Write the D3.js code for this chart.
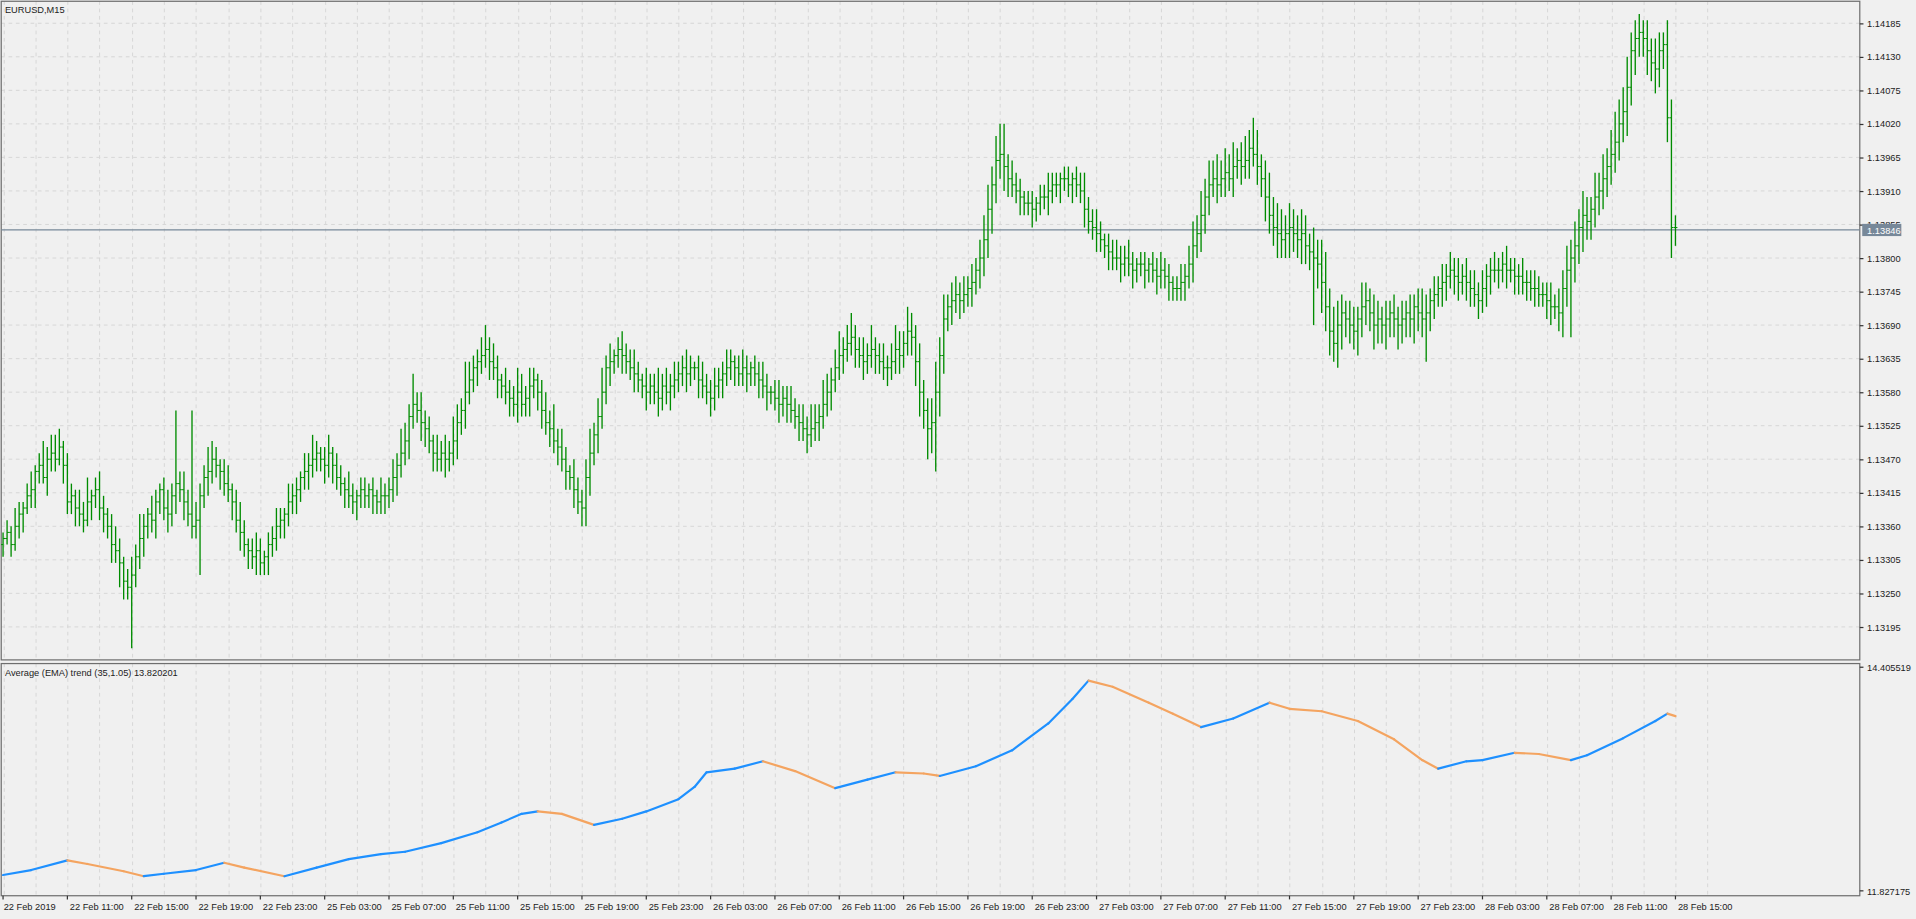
<!DOCTYPE html>
<html><head><meta charset="utf-8">
<script src="https://cdn.jsdelivr.net/npm/d3@7"></script>
<style>html,body{margin:0;padding:0;background:#f0f0f0;overflow:hidden}</style>
</head><body>
<svg id="c" width="1916" height="919" viewBox="0 0 1568 752"></svg>
<script>
// Close prices in pips above 1.1300, one per M15 bar starting 22 Feb 07:00
const closes = [
34,35,33,36,38,39,41,42,45,46,44,47,48,47,49,46,40,41,39,38,
37,40,41,42,39,38,36,33,32,30,27,26,28,31,34,36,38,37,40,42,
39,38,41,43,42,40,38,36,37,41,44,45,47,46,45,43,42,40,37,35,
33,32,31,32,30,31,33,34,36,37,38,40,41,42,44,45,46,47,48,47,
46,48,46,44,43,42,41,40,41,42,41,42,41,40,41,41,42,44,46,48,
50,54,56,55,53,52,50,48,47,48,47,48,50,53,55,58,60,62,63,64,
65,63,62,60,59,58,57,56,58,56,57,59,60,58,55,53,52,50,49,47,
45,44,42,40,39,44,48,51,54,58,62,63,64,65,64,63,62,61,60,59,
58,59,58,57,59,58,59,60,61,62,61,62,62,60,59,58,57,59,60,61,
62,63,62,61,62,61,62,61,60,59,58,58,57,56,57,56,55,54,53,52,
51,52,53,54,56,58,60,62,64,65,66,67,65,64,63,64,65,64,63,62,
62,63,65,64,66,68,67,63,58,55,52,53,58,64,70,72,73,74,73,74,
75,76,78,80,83,88,92,96,97,95,93,92,91,90,89,89,88,89,90,90,
91,92,92,93,93,92,93,92,91,88,86,85,84,83,82,81,80,80,79,80,
79,78,79,79,78,79,78,77,78,77,76,75,75,76,77,79,82,84,87,90,
92,93,92,93,94,93,95,96,95,96,98,97,95,93,90,87,85,84,83,84,
85,84,83,84,82,81,80,79,76,72,68,66,69,71,70,69,68,70,72,73,
71,69,70,69,70,71,70,69,70,71,70,72,71,70,71,73,74,75,76,77,
78,77,76,77,76,75,74,73,75,77,78,78,78,79,78,78,77,77,76,76,
75,75,74,74,73,72,72,71,75,78,80,82,85,87,86,88,90,91,93,95,
97,99,102,104,108,114,116,117,116,114,112,111,114,115,103,85,85
];
const hiExt = [
1,2,1,3,2,1,2,3,1,2,4,2,3,2,3,1,2,2,1,3,
2,4,1,2,3,2,1,2,3,2,1,2,3,2,4,2,1,3,2,1,
2,3,2,4,2,3,2,4,3,2,2,4,3,2,1,2,3,1,2,3,
2,1,2,3,2,1,2,2,3,2,1,3,2,2,1,3,2,4,2,1,
2,3,1,2,2,1,3,2,1,2,2,1,2,1,3,2,2,3,2,4,
3,2,5,2,3,2,2,1,3,2,3,2,4,3,2,5,3,2,2,3,
4,2,3,2,1,3,2,2,4,3,2,3,2,1,2,3,2,4,2,3,
2,1,3,2,2,3,4,2,3,4,2,3,1,2,3,2,2,3,2,1,
3,2,2,4,2,3,2,3,2,2,3,2,1,2,3,2,2,3,2,2,
3,2,1,2,3,2,1,2,2,3,2,1,2,3,2,2,3,2,2,3,
2,4,3,2,4,3,2,3,4,2,3,4,2,2,3,2,4,2,2,3,
2,3,4,3,2,4,3,2,3,2,2,4,5,3,4,2,3,3,2,3,
2,3,2,3,4,4,3,4,5,3,2,3,2,2,1,2,2,1,2,2,
3,2,2,1,2,2,1,2,2,3,2,2,3,2,1,2,2,3,2,2,
3,2,1,2,2,1,2,2,3,2,2,1,2,3,2,3,4,3,4,3,
4,3,4,3,4,3,4,2,3,4,3,3,4,2,3,4,3,4,4,3,
4,3,3,4,3,2,4,3,4,5,3,4,4,3,2,3,3,2,4,3,
2,3,3,2,3,2,3,2,3,2,3,2,3,4,3,2,3,2,3,2,
3,2,3,2,3,2,3,2,3,2,2,3,2,2,3,2,2,2,3,2,
2,3,2,2,2,3,2,3,3,4,3,4,3,4,3,2,4,3,4,3,
4,5,4,4,5,3,3,3,2,3,2,4,3,2,4,3,2
];
const loExt = [
2,1,2,1,2,3,1,2,3,2,1,3,2,2,1,3,2,2,3,2,
2,1,3,2,2,3,2,3,2,4,3,2,3,2,2,3,2,2,3,2,
2,3,2,3,2,3,2,2,2,3,2,3,2,2,3,2,2,3,2,3,
2,3,2,3,2,2,3,2,2,2,3,2,2,3,2,2,3,2,2,2,
3,2,3,2,2,3,2,2,3,2,2,2,3,2,2,3,2,2,3,2,
2,3,2,2,3,3,2,3,2,2,3,2,2,3,2,3,2,2,3,2,
2,3,2,3,2,2,3,2,3,2,2,3,2,3,3,2,3,2,3,2,
3,2,3,2,3,2,3,2,3,2,2,3,2,2,3,2,2,3,2,2,
3,2,2,3,2,2,3,2,2,2,3,2,2,3,2,2,3,2,2,3,
2,2,3,2,2,3,2,2,3,2,3,2,2,3,2,3,2,2,3,2,
3,2,2,3,2,2,3,2,2,3,2,2,3,2,3,2,2,3,2,2,
3,2,2,3,2,2,3,4,4,3,5,4,3,4,3,2,3,2,3,2,
2,3,2,3,3,3,4,3,3,4,3,2,2,3,2,2,3,2,2,2,
3,2,2,3,2,2,3,2,2,3,2,2,3,2,2,3,2,2,3,2,
2,3,2,2,3,2,2,3,2,2,3,2,2,2,3,2,3,2,3,3,
3,2,3,2,3,2,3,2,3,2,3,2,3,3,4,3,3,4,3,3,
4,3,3,4,3,3,4,4,5,4,4,3,3,4,3,3,3,4,3,3,
3,4,3,3,4,3,3,4,3,3,3,4,3,3,3,3,3,2,3,3,
2,3,3,2,3,3,2,3,2,3,3,2,3,2,3,2,3,3,2,3,
2,3,2,2,3,3,2,3,4,3,3,4,3,4,3,3,3,3,3,3,
3,3,3,3,4,3,4,3,3,4,3,4,3,3,4,5,3
];
// Visible wick extremes: [bar index, price in pips]
const spikeHighs = [[13,51],[43,55],[47,55],[249,102],[311,103],[407,118],[409,119]];
const spikeLows = [[32,16],[49,28],[145,36],[232,45],[326,69],[332,62],[354,63],[390,67]];
// EMA trend indicator readings: [bar index, value]
const emaPts = [
[0,12.010],[7,12.067],[16,12.179],[21,12.137],[30,12.053],[35,11.996],[40,12.024],[48,12.067],[55,12.151],[60,12.095],
[70,11.996],[78,12.095],[86,12.193],[94,12.250],[100,12.278],[109,12.377],[118,12.503],[124,12.616],[129,12.715],[133,12.743],
[139,12.715],[147,12.588],[154,12.658],[160,12.743],[168,12.884],[172,13.025],[175,13.194],[182,13.236],[189,13.321],[197,13.208],
[207,13.011],[215,13.109],[222,13.194],[229,13.180],[233,13.152],[242,13.264],[251,13.447],[260,13.757],[266,14.039],[270,14.251],
[276,14.180],[285,13.997],[291,13.870],[298,13.715],[306,13.814],[315,13.997],[320,13.926],[328,13.898],[337,13.785],[346,13.574],
[353,13.335],[357,13.236],[364,13.321],[368,13.335],[376,13.419],[382,13.405],[390,13.335],[394,13.391],[403,13.588],[411,13.785],
[414,13.870],[416,13.842]
];
const priceTicks = [1.13195,1.13250,1.13305,1.13360,1.13415,1.13470,1.13525,1.13580,1.13635,1.13690,1.13745,1.13800,1.13855,1.13910,1.13965,1.14020,1.14075,1.14130,1.14185];
const dateLabels = ["22 Feb 2019","22 Feb 11:00","22 Feb 15:00","22 Feb 19:00","22 Feb 23:00","25 Feb 03:00","25 Feb 07:00","25 Feb 11:00","25 Feb 15:00","25 Feb 19:00","25 Feb 23:00","26 Feb 03:00","26 Feb 07:00","26 Feb 11:00","26 Feb 15:00","26 Feb 19:00","26 Feb 23:00","27 Feb 03:00","27 Feb 07:00","27 Feb 11:00","27 Feb 15:00","27 Feb 19:00","27 Feb 23:00","28 Feb 03:00","28 Feb 07:00","28 Feb 11:00","28 Feb 15:00"];
const lastPrice = 1.13846;
const emaMax = 14.405519, emaMin = 11.827175;

const svg = d3.select("#c");
const font = "'Liberation Sans', Arial, sans-serif";
const FS = 7.6;
const L = 1, R = 1522, T = 1, B = 540, T2 = 543, B2 = 733;
const x = d3.scaleLinear().domain([0, 416]).range([2.5, 2.5 + 3.29 * 416]);
const y = d3.scaleLinear().domain([1.13195, 1.14185]).range([513, 19]);
const y2 = d3.scaleLinear().domain([emaMin, emaMax]).range([729, 546]);
const P = p => 1.13 + p / 10000;

svg.append("rect").attr("width",1568).attr("height",752).attr("fill","#f0f0f0");
const grid = "#d6d6d6";
for (let i = 0; i <= 424; i += 8) {
  const gx = Math.round(x(i)) + 0.5;
  if (gx > R) break;
  [[T,B],[T2,B2]].forEach(([a,b]) => svg.append("line").attr("x1",gx).attr("x2",gx).attr("y1",a).attr("y2",b)
    .attr("stroke",grid).attr("stroke-dasharray","3,3").attr("stroke-width",0.8));
}
priceTicks.forEach(t => svg.append("line").attr("x1",L).attr("x2",R).attr("y1",y(t)).attr("y2",y(t))
  .attr("stroke",grid).attr("stroke-dasharray","3,3").attr("stroke-width",0.8));
svg.append("rect").attr("x",L).attr("y",T).attr("width",R-L).attr("height",B-T).attr("fill","none").attr("stroke","#6e6e6e").attr("stroke-width",1);
svg.append("rect").attr("x",L).attr("y",T2).attr("width",R-L).attr("height",B2-T2).attr("fill","none").attr("stroke","#6e6e6e").attr("stroke-width",1);

const yAxis = d3.axisRight(y).tickValues(priceTicks).tickFormat(d3.format(".5f")).tickSize(3);
const ga = svg.append("g").attr("transform",`translate(${R},0)`).call(yAxis);
ga.select(".domain").remove();
ga.selectAll("line").attr("stroke","#333");
ga.selectAll("text").attr("font-family",font).attr("font-size",FS).attr("fill","#222").attr("x",6);

svg.append("line").attr("x1",L).attr("x2",R).attr("y1",y(lastPrice)).attr("y2",y(lastPrice)).attr("stroke","#778899").attr("stroke-width",1);
svg.append("rect").attr("x",R+2).attr("y",y(lastPrice)-5).attr("width",32).attr("height",10).attr("fill","#778899");
svg.append("text").attr("x",R+6).attr("y",y(lastPrice)+3).attr("font-family",font).attr("font-size",FS).attr("fill","#fff").text(lastPrice.toFixed(5));

const bars = closes.map((c,i) => {
  const o = i === 0 ? closes[0] - 1 : closes[i-1];
  let h = Math.max(o,c) + (hiExt[i] ?? 2);
  let l = Math.min(o,c) - (loExt[i] ?? 2);
  spikeHighs.forEach(([k,v]) => { if (k === i) h = Math.max(h, v); });
  spikeLows.forEach(([k,v]) => { if (k === i) l = Math.min(l, v); });
  return {i, o:P(o), h:P(h), l:P(l), c:P(c)};
});
const gb = svg.append("g");
const col = "#008c00";
bars.forEach(b => {
  const bx = x(b.i);
  gb.append("line").attr("x1",bx).attr("x2",bx).attr("y1",y(b.h)).attr("y2",y(b.l)).attr("stroke",col).attr("stroke-width",1.1);
  gb.append("line").attr("x1",bx-1.6).attr("x2",bx).attr("y1",y(b.o)).attr("y2",y(b.o)).attr("stroke",col).attr("stroke-width",0.8);
  gb.append("line").attr("x1",bx).attr("x2",bx+1.6).attr("y1",y(b.c)).attr("y2",y(b.c)).attr("stroke",col).attr("stroke-width",0.8);
});

for (let k = 1; k < emaPts.length; k++) {
  const [a,va] = emaPts[k-1], [b,vb] = emaPts[k];
  svg.append("line").attr("x1",x(a)).attr("x2",x(b)).attr("y1",y2(va)).attr("y2",y2(vb))
    .attr("stroke", vb >= va ? "#1e90ff" : "#f4a460").attr("stroke-width",1.8).attr("stroke-linecap","round");
}
[[emaMax,y2(emaMax)+3],[emaMin,y2(emaMin)+3]].forEach(([v,yy]) => {
  svg.append("line").attr("x1",R).attr("x2",R+3).attr("y1",yy-3).attr("y2",yy-3).attr("stroke","#333");
  svg.append("text").attr("x",R+6).attr("y",yy).attr("font-family",font).attr("font-size",FS).attr("fill","#222").text(v.toFixed(6));
});

const gd = svg.append("g");
dateLabels.forEach((d,k) => {
  const tx = x(k*16);
  gd.append("line").attr("x1",tx).attr("x2",tx).attr("y1",B2).attr("y2",B2+3).attr("stroke","#333");
  gd.append("text").attr("x",k===0?3:tx+2).attr("y",B2+12).attr("font-family",font).attr("font-size",FS).attr("fill","#222").text(d);
});

svg.append("text").attr("x",4).attr("y",11).attr("font-family",font).attr("font-size",FS).attr("fill","#222").text("EURUSD,M15");
svg.append("text").attr("x",4).attr("y",553).attr("font-family",font).attr("font-size",FS).attr("fill","#222").text("Average (EMA) trend (35,1.05) 13.820201");
</script>
</body></html>
